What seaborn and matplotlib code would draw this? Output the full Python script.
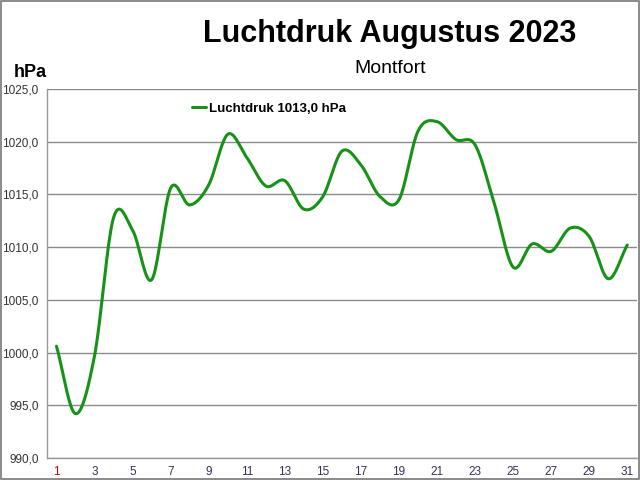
import numpy as np
import pandas as pd
import matplotlib
matplotlib.use("Agg")
import matplotlib.pyplot as plt
import seaborn as sns

# Daily air pressure, August 2023 (hPa)
days = list(range(1, 32))
pressure = [1000.6, 994.2, 999.7, 1012.8, 1011.6, 1006.9, 1015.6, 1014.0, 1015.9, 1020.7,
            1018.5, 1015.8, 1016.3, 1013.6, 1014.8, 1019.1, 1017.8, 1014.8, 1014.5, 1021.0,
            1021.9, 1020.2, 1019.7, 1014.2, 1008.1, 1010.3, 1009.6, 1011.8, 1011.0, 1007.0,
            1010.2]
y_ticks = [990, 995, 1000, 1005, 1010, 1015, 1020, 1025]
x_labels = list(range(1, 32, 2))
legend_label = "Luchtdruk 1013,0 hPa"


def smooth(x, y, n=20):
    # Catmull-Rom curve through the points, like a "smoothed line" in a spreadsheet
    x = np.asarray(x, float)
    y = np.asarray(y, float)
    px = np.concatenate([[2 * x[0] - x[1]], x, [2 * x[-1] - x[-2]]])
    py = np.concatenate([[2 * y[0] - y[1]], y, [2 * y[-1] - y[-2]]])
    t = np.linspace(0, 1, n, endpoint=False)
    xs, ys = [], []
    for i in range(1, len(px) - 2):
        for p, out in ((px, xs), (py, ys)):
            p0, p1, p2, p3 = p[i - 1], p[i], p[i + 1], p[i + 2]
            out.extend(0.5 * (2 * p1 + (-p0 + p2) * t + (2 * p0 - 5 * p1 + 4 * p2 - p3) * t ** 2
                              + (-p0 + 3 * p1 - 3 * p2 + p3) * t ** 3))
    xs.append(x[-1])
    ys.append(y[-1])
    return np.array(xs), np.array(ys)


sns.set_theme(style="white")
plt.rcParams['font.family'] = ['Liberation Sans', 'DejaVu Sans']

sx, sy = smooth(days, pressure)
df = pd.DataFrame({"dag": sx, "hPa": sy})

fig = plt.figure(figsize=(6.4, 4.8), dpi=100)
ax = fig.add_axes([0.0734, 0.046, 0.9216, 0.7686])
sns.lineplot(data=df, x="dag", y="hPa", color="#169216", linewidth=2.2, ax=ax,
             label=legend_label, sort=False)

ax.set_xlim(0.5, 31.5)
ax.set_ylim(990, 1025)
ax.set_yticks(y_ticks)
ax.set_yticklabels([f"{v:.1f}".replace(".", ",") for v in y_ticks], fontsize=8.5, color="#333333")
ax.set_xticks(x_labels)
ax.set_xticklabels([str(d) for d in x_labels], fontsize=8.5, color="#333355")
ax.get_xticklabels()[0].set_color("#cc0000")
ax.set_xticks(np.arange(0.5, 32, 1), minor=True)
ax.tick_params(axis="x", which="major", length=0, pad=6)
ax.tick_params(axis="x", which="minor", length=4, color="#888888", direction="out")
ax.tick_params(axis="y", length=5, color="#888888", direction="out", pad=1)
ax.set_xlabel("")
ax.set_ylabel("")
ax.grid(axis="y", color="#8a8a8a", linewidth=1)
ax.set_axisbelow(True)
for side in ["top", "right"]:
    ax.spines[side].set_visible(False)
for side in ["left", "bottom"]:
    ax.spines[side].set_color("#999999")
    ax.spines[side].set_linewidth(1)

leg = ax.legend(loc="upper left", bbox_to_anchor=(0.225, 0.995), frameon=False,
                handlelength=1.1, handletextpad=0.2,
                prop={"weight": "bold", "size": 9.5})
for txt in leg.get_texts():
    txt.set_color("black")

fig.text(0.609, 0.929, "Luchtdruk Augustus 2023", ha="center", va="center", fontsize=22,
         fontweight="bold", color="black")
fig.text(0.609, 0.858, "Montfort", ha="center", va="center", fontsize=14, color="black")
fig.text(0.047, 0.848, "hPa", ha="center", va="center", fontsize=13, fontweight="bold",
         color="black")

# thin frame round the whole picture
fig.patches.append(plt.Rectangle((0.001, 0.002), 0.998, 0.996, transform=fig.transFigure,
                                 fill=False, edgecolor="#777777", linewidth=1.2))

fig.savefig("out.png", dpi=100)
